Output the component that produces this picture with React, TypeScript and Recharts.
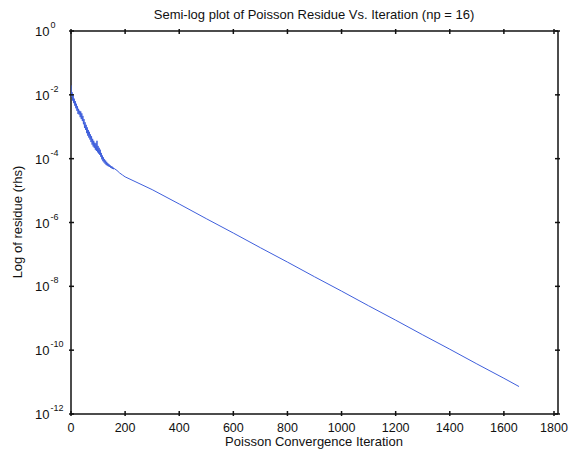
import React from 'react';
import { LineChart, Line, XAxis, YAxis, ReferenceLine } from 'recharts';

// Iteration numbers sampled along the curve
const ITERATIONS = [
    0, 2, 4, 6, 8, 10, 12, 14, 16, 18, 20, 22, 24, 26, 28, 30, 32, 34, 36, 38,
    40, 42, 44, 46, 48, 50, 52, 54, 56, 58, 60, 62, 64, 66, 68, 70, 72, 74, 76, 78,
    80, 82, 84, 86, 88, 90, 92, 94, 96, 98, 100, 102, 104, 106, 108, 110, 112, 114, 116, 118,
    120, 122, 124, 126, 128, 130, 132, 134, 136, 138, 140, 142, 144, 146, 148, 150, 152, 154, 156, 158,
    160, 170, 180, 190, 200, 300, 400, 500, 600, 700, 800, 900, 1000, 1100, 1200, 1300, 1400, 1500, 1600, 1656,
];

// log10 of the rms residue
const LOG_RESIDUE = [
    -1.7, -2.05, -1.92, -2.18, -2.02, -2.26, -2.12, -2.34, -2.2, -2.42, -2.28, -2.5, -2.36, -2.6, -2.44, -2.62, -2.5, -2.7, -2.52, -2.76,
    -2.58, -2.82, -2.66, -2.92, -2.76, -3.04, -2.86, -3.1, -2.94, -3.2, -3.02, -3.28, -3.1, -3.34, -3.16, -3.4, -3.24, -3.48, -3.3, -3.56,
    -3.38, -3.62, -3.44, -3.66, -3.5, -3.72, -3.52, -3.76, -3.44, -3.8, -3.6, -3.84, -3.66, -3.88, -3.72, -3.94, -3.82, -4.02, -3.9, -4.08,
    -3.96, -4.12, -4.02, -4.16, -4.06, -4.2, -4.1, -4.22, -4.14, -4.24, -4.17, -4.26, -4.2, -4.28, -4.23, -4.3, -4.25, -4.32, -4.28, -4.33,
    -4.31, -4.37, -4.45, -4.51, -4.57, -4.97, -5.42, -5.88, -6.33, -6.79, -7.24, -7.7, -8.15, -8.61, -9.06, -9.52, -9.97, -10.43, -10.88, -11.14,
];

const X_TICKS = [0, 200, 400, 600, 800, 1000, 1200, 1400, 1600, 1800];
const Y_TICKS = [1, 1e-2, 1e-4, 1e-6, 1e-8, 1e-10, 1e-12];

const data = ITERATIONS.map((iter, i) => ({ iter, residue: Math.pow(10, LOG_RESIDUE[i]) }));

const FONT = '"Liberation Sans", Arial, sans-serif';
const INK = '#111';

const BottomTick = (props: any) => {
    const { x, y, payload } = props;
    return (
        <g>
            <line x1={x} x2={x} y1={y} y2={y - 5} stroke={INK} strokeWidth={1.5} />
            <text x={x} y={y + 16} textAnchor="middle" fontSize={12.5} fontFamily={FONT} fill={INK}>
                {payload.value}
            </text>
        </g>
    );
};

const TopTick = (props: any) => {
    const { x, y } = props;
    return <line x1={x} x2={x} y1={y} y2={y + 5} stroke={INK} strokeWidth={1.5} />;
};

const LeftTick = (props: any) => {
    const { x, y, payload } = props;
    const exp = Math.round(Math.log10(payload.value));
    return (
        <g>
            <line x1={x} x2={x + 5} y1={y} y2={y} stroke={INK} strokeWidth={1.5} />
            <text x={x - 34} y={y + 5} fontSize={13} fontFamily={FONT} fill={INK}>
                10
                <tspan dx={1} dy={-8} fontSize={9}>{exp}</tspan>
            </text>
        </g>
    );
};

const RightTick = (props: any) => {
    const { x, y } = props;
    return <line x1={x} x2={x - 5} y1={y} y2={y} stroke={INK} strokeWidth={1.5} />;
};

const App = () => {
    return (
        <div style={{ position: 'absolute', left: 0, top: 0, background: '#fff' }}>
            <LineChart width={570} height={455} data={data} margin={{ top: 30, right: 11, bottom: 0, left: 0 }}>
                <text x={314} y={19} textAnchor="middle" fontSize={13} fontFamily={FONT} fill={INK}>
                    Semi-log plot of Poisson Residue Vs. Iteration (np = 16)
                </text>
                <text x={314} y={446} textAnchor="middle" fontSize={13} fontFamily={FONT} fill={INK}>
                    Poisson Convergence Iteration
                </text>
                <text x={22} y={222} textAnchor="middle" fontSize={13} fontFamily={FONT} fill={INK} transform="rotate(-90 22 222)">
                    Log of residue (rhs)
                </text>
                <XAxis
                    xAxisId="bottom"
                    type="number"
                    dataKey="iter"
                    domain={[0, 1800]}
                    ticks={X_TICKS}
                    height={41}
                    tickSize={0}
                    tickLine={false}
                    tick={<BottomTick />}
                    axisLine={false}
                    allowDataOverflow
                />
                <XAxis
                    xAxisId="top"
                    orientation="top"
                    type="number"
                    dataKey="iter"
                    domain={[0, 1800]}
                    ticks={X_TICKS}
                    height={1}
                    tickSize={0}
                    tickLine={false}
                    tick={<TopTick />}
                    axisLine={false}
                    allowDataOverflow
                />
                <YAxis
                    yAxisId="left"
                    scale="log"
                    domain={[1e-12, 1]}
                    ticks={Y_TICKS}
                    width={71}
                    tickSize={0}
                    tickLine={false}
                    tick={<LeftTick />}
                    axisLine={false}
                    allowDataOverflow
                />
                <YAxis
                    yAxisId="right"
                    orientation="right"
                    scale="log"
                    domain={[1e-12, 1]}
                    ticks={Y_TICKS}
                    width={1}
                    tickSize={0}
                    tickLine={false}
                    tick={<RightTick />}
                    axisLine={false}
                    allowDataOverflow
                />
                {/* axes box */}
                <ReferenceLine xAxisId="bottom" yAxisId="left" x={0} stroke={INK} strokeWidth={1.5} ifOverflow="visible" />
                <ReferenceLine xAxisId="bottom" yAxisId="left" x={1800} stroke={INK} strokeWidth={1.5} ifOverflow="visible" />
                <ReferenceLine xAxisId="bottom" yAxisId="left" y={1} stroke={INK} strokeWidth={1.5} ifOverflow="visible" />
                <ReferenceLine xAxisId="bottom" yAxisId="left" y={1e-12} stroke={INK} strokeWidth={1.5} ifOverflow="visible" />
                <Line
                    xAxisId="bottom"
                    yAxisId="left"
                    type="linear"
                    dataKey="residue"
                    stroke="#3f5fdc"
                    strokeWidth={1}
                    dot={false}
                    isAnimationActive={false}
                />
            </LineChart>
        </div>
    );
};

export default App;
